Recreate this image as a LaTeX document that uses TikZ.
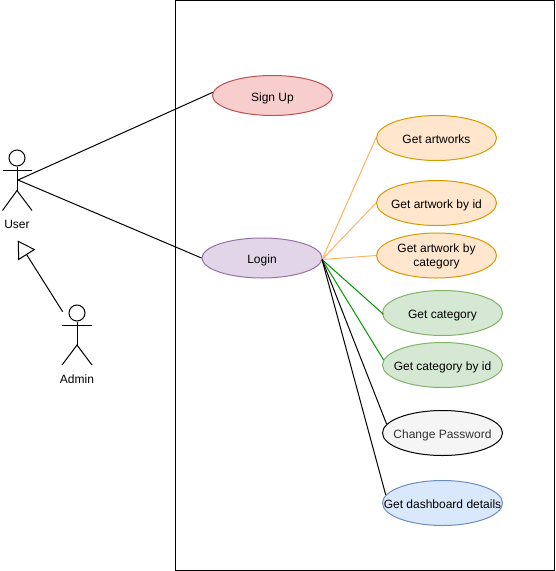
\documentclass[tikz,border=0pt]{standalone}
\usepackage{fontspec}
\setmainfont{Liberation Sans}
\usetikzlibrary{shapes.geometric,arrows.meta}
\definecolor{orangeline}{HTML}{FFB366}
\definecolor{greenline}{HTML}{009900}
\tikzset{
  usecase/.style={ellipse,draw,line width=1pt,minimum width=120pt,minimum height=#1,inner xsep=-40pt,inner ysep=-30pt,align=center,text height=11pt,text depth=0pt,font=\fontsize{12}{14}\selectfont},
  usecase/.default=45pt,
  red case/.style={usecase=40pt,fill={rgb,255:red,248;green,206;blue,204},draw={rgb,255:red,184;green,84;blue,80}},
  purple case/.style={usecase=40pt,fill={rgb,255:red,225;green,213;blue,231},draw={rgb,255:red,150;green,115;blue,166}},
  orange case/.style={usecase,fill={rgb,255:red,255;green,230;blue,204},draw={rgb,255:red,215;green,155;blue,0}},
  green case/.style={usecase,fill={rgb,255:red,213;green,232;blue,212},draw={rgb,255:red,130;green,179;blue,102}},
  gray case/.style={usecase,fill={rgb,255:red,245;green,245;blue,245},draw=black,text={rgb,255:red,51;green,51;blue,51}},
  blue case/.style={usecase,fill={rgb,255:red,218;green,232;blue,252},draw={rgb,255:red,108;green,142;blue,191}},
  two lines/.style={text height=22.4pt,text depth=0pt},
  link/.style={line width=1pt,black},
  olink/.style={line width=1pt,orangeline},
  glink/.style={line width=1pt,greenline},
  actorline/.style={line width=1pt,black},
  actorhead/.style={circle,draw,line width=1pt,fill=white,minimum size=16pt,inner sep=0pt},
  label text/.style={inner sep=0pt,text height=11pt,text depth=0pt,font=\fontsize{12}{14}\selectfont}
}
\begin{document}
\begin{tikzpicture}[x=1pt,y=-1pt]
\useasboundingbox (0,0) rectangle (556,571);
\fill[white] (0,0) rectangle (556,571);
\node[draw,line width=1pt,minimum width=379pt,minimum height=570pt,inner sep=0pt] (system) at (365,285.5) {};

\node[red case] (signup) at (272.5,95.5) {Sign Up};
\node[purple case] (login) at (262,258) {Login};
\node[orange case] (artworks) at (436.5,138) {Get artworks};
\node[orange case] (artworkid) at (436.5,203) {Get artwork by id};
\node[orange case,two lines] (artworkcat) at (436.5,255.5) {Get artwork by\\category};
\node[green case] (category) at (442.5,313) {Get category};
\node[green case] (categoryid) at (442.5,365) {Get category by id};
\node[gray case] (password) at (442.5,433) {Change Password};
\node[blue case] (dashboard) at (442.5,503) {Get dashboard details};

% User actor
\node[actorhead] (userhead) at (17,158) {};
\draw[actorline] (userhead.south) -- (17,190.5) coordinate (userhip);
\draw[actorline] (2.5,170.5) -- (32,170.5);
\draw[actorline] (2.5,210.5) -- (userhip) -- (32,210.5);
\node[label text] (userlabel) at (17,223) {User};
\coordinate (userport) at (18,180);
\coordinate (userbase) at (17.7,240.5);

% Admin actor
\node[actorhead] (adminhead) at (77,313) {};
\draw[actorline] (adminhead.south) -- (77,345) coordinate (adminhip);
\draw[actorline] (62,325.5) -- (92,325.5);
\draw[actorline] (62,365) -- (adminhip) -- (92,365);
\node[label text] (adminlabel) at (77,378) {Admin};
\coordinate (adminport) at (62.7,311.7);

% Connectors
\coordinate (hub) at (322,259.5);
\draw[link] (userport) -- (signup.177);
\draw[link] (userport) -- (login.west);
\draw[link,-{Triangle[open,length=17pt,width=20pt,line width=1pt]}] (adminport) -- (userbase);
\draw[olink] (hub) -- (artworks.west);
\draw[olink] (hub) -- (artworkid.west);
\draw[olink] (hub) -- (artworkcat.west);
\draw[glink,shorten >=-2pt] (hub) -- (category.west);
\draw[glink] (hub) -- (categoryid.175);
\draw[link] (hub) -- (password.171);
\draw[link] (hub) -- (dashboard.172);
\end{tikzpicture}
\end{document}
